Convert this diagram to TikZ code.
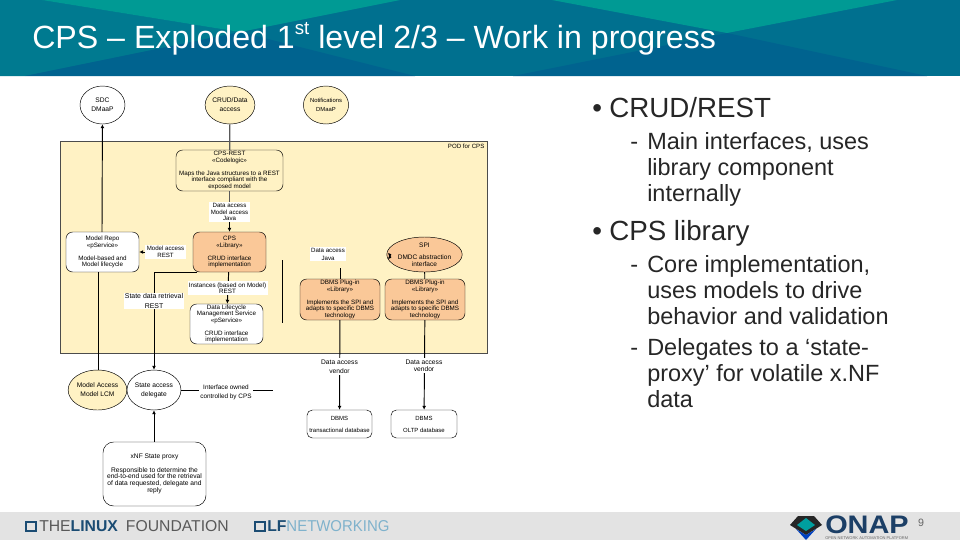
\documentclass[tikz,border=0pt]{standalone}
\usepackage{fontspec}
\setmainfont{Liberation Sans}
\usetikzlibrary{shapes.geometric,arrows.meta}
\definecolor{headblue}{HTML}{00708F}
\definecolor{headteal}{HTML}{009A94}
\definecolor{headmid}{HTML}{007A90}
\definecolor{headlow}{HTML}{00638F}
\definecolor{footgray}{HTML}{E3E3E3}
\definecolor{podfill}{HTML}{FFF2C4}
\definecolor{orangefill}{HTML}{FAC898}
\definecolor{lfnavy}{HTML}{1B4C73}
\definecolor{lfblue}{HTML}{7FB2CC}
\definecolor{onapnavy}{HTML}{1C3F66}
\tikzset{
  endbox/.style={ellipse,draw=black,line width=.35pt,inner sep=0pt,align=center,font=\fontsize{5}{6.8}\selectfont},
  podbox/.style={rectangle,rounded corners=5pt,draw=black,line width=.35pt,inner sep=0pt,align=center,font=\fontsize{4.7}{4.9}\selectfont},
  linklabel/.style={fill=white,inner sep=1pt,align=center,font=\fontsize{4.6}{5}\selectfont},
  flow/.style={draw=black,line width=.7pt,-{Latex[length=3pt,width=3pt]}},
  plainflow/.style={draw=black,line width=.7pt},
  grayflow/.style={draw=black!65,line width=.9pt},
  bigitem/.style={anchor=base west,font=\fontsize{20.8}{20.8}\selectfont,text=black!85,inner sep=0pt},
  smallitem/.style={anchor=base west,font=\fontsize{17.6}{19.5}\selectfont,text=black!85,inner sep=0pt,align=left}
}
\begin{document}
\begin{tikzpicture}[x=0.75pt,y=-0.75pt]
    \useasboundingbox (0,0) rectangle (960,540);
    % header and footer
    \fill[headblue] (0,0) rectangle (960,76);
    \fill[headmid] (0,0) -- (42,0) -- (240,32) -- (25,76) -- (0,76) -- cycle;
    \fill[headlow] (25,76) -- (240,32) -- (415,76) -- cycle;
    \fill[headlow] (513,76) -- (727,33) -- (927,76) -- cycle;
    \fill[headteal] (42,0) -- (400,0) -- (240,32) -- cycle;
    \fill[headteal] (552,0) -- (897,0) -- (727,33) -- cycle;
    \fill[footgray] (0,512) rectangle (960,540);
    \node[anchor=base west,text=white,inner sep=0pt,font=\fontsize{24.1}{24.1}\selectfont] (title) at (32,48) {CPS – Exploded 1\raisebox{.42em}{\fontsize{14}{14}\selectfont st} level 2/3 – Work in progress};

    % diagram
    \fill[podfill] (60,141) rectangle (487,353);
    \draw[black!70,line width=.5pt] (60,141) rectangle (487,353);
    \node[anchor=north east,inner sep=1pt,font=\fontsize{4.6}{5}\selectfont] (podname) at (486,142) {POD for CPS};

    \node[endbox,minimum width=33.75pt,minimum height=28.5pt] (sdc) at (102.5,105) {SDC\\DMaaP};
    \node[endbox,fill=podfill,minimum width=33.75pt,minimum height=28.5pt] (crud) at (230,105) {CRUD/Data\\access};
    \node[endbox,fill=podfill,minimum width=33.75pt,minimum height=28.5pt,font=\fontsize{4.4}{6.8}\selectfont] (notif) at (326,105) {Notifications\\DMaaP};

    \node[podbox,fill=podfill,minimum width=80.25pt,minimum height=30.75pt] (rest) at (229.5,170.5) {CPS-REST\\<<Codelogic>>\\[4.9pt]Maps the Java structures to a REST\\interface compliant with the\\exposed model};
    \node[podbox,fill=white,minimum width=54.75pt,minimum height=30pt] (repo) at (102.5,252) {Model Repo\\<<pService>>\\[4.9pt]Model-based and\\Model lifecycle};
    \node[podbox,fill=orangefill,minimum width=54.75pt,minimum height=30pt] (cps) at (229.5,252) {CPS\\<<Library>>\\[4.9pt]CRUD interface\\implementation};
    \node[podbox,fill=white,minimum width=54.75pt,minimum height=30pt] (lifecycle) at (226.5,324) {Data Lifecycle\\Management Service\\<<pService>>\\[4.9pt]CRUD interface\\implementation};
    \node[endbox,fill=orangefill,minimum width=50.25pt,minimum height=26.25pt,font=\fontsize{4.9}{5}\selectfont] (spi) at (424.5,254.5) {SPI\\[4.5pt]DMDC abstraction\\interface};
    \node[podbox,fill=orangefill,minimum width=60pt,minimum height=30.75pt] (plugone) at (340,299.5) {DBMS Plug-in\\<<Library>>\\[4.9pt]Implements the SPI and\\adapts to specific DBMS\\technology};
    \node[podbox,fill=orangefill,minimum width=60pt,minimum height=30.75pt] (plugtwo) at (425,299.5) {DBMS Plug-in\\<<Library>>\\[4.9pt]Implements the SPI and\\adapts to specific DBMS\\technology};

    \node[endbox,fill=podfill,minimum width=36.75pt,minimum height=30pt] (lcm) at (97.5,390) {Model Access\\Model LCM};
    \node[endbox,fill=white,minimum width=37.5pt,minimum height=30pt] (state) at (154,390) {State access\\delegate};
    \node[podbox,fill=white,rounded corners=8pt,minimum width=77.25pt,minimum height=48pt,font=\fontsize{5}{5}\selectfont] (xnf) at (154.5,474) {xNF State proxy\\[5pt]Responsible to determine the\\end-to-end used for the retrieval\\of data requested, delegate and\\reply};
    \node[podbox,fill=white,rounded corners=4pt,minimum width=48.75pt,minimum height=21pt,font=\fontsize{4.5}{5}\selectfont] (dbone) at (339.5,424) {DBMS\\[4pt]transactional database};
    \node[podbox,fill=white,rounded corners=4pt,minimum width=49.5pt,minimum height=21pt,font=\fontsize{4.5}{5}\selectfont] (dbtwo) at (424,424) {DBMS\\[4pt]OLTP database};

    % labels on the links
    \coordinate (legendend) at (273,390);
    \coordinate (barTop) at (282,260);
    \coordinate (barEnd) at (282,323);
    \coordinate (repoOut) at (102,232);
    \coordinate (repoIn) at (98,272);
    \draw[grayflow] (crud) -- (rest);
    \node[linklabel] (accessmodel) at (229.5,212) {Data access\\Model access\\Java};
    \draw[grayflow] (rest) -- (accessmodel);
    \draw[flow] (accessmodel) -- (cps);
    \draw[flow] (repoOut) -- (sdc);
    \draw[plainflow] (repoIn) -- (lcm.north -| repoIn);
    \node[linklabel] (modelrest) at (165.5,252) {Model access\\REST};
    \draw[flow] (modelrest) -- (repo);
    \draw[flow] (cps.212) -| (state);
    \node[linklabel,font=\fontsize{5.2}{6.8}\selectfont] (retrieval) at (154,301) {State data retrieval\\REST};
    \draw[flow] (cps) -- (lifecycle);
    \node[linklabel,font=\fontsize{4.7}{4.7}\selectfont] (instances) at (227.5,288) {Instances (based on Model)\\REST};
    \draw[plainflow] (barTop) -- (barEnd);
    \draw[plainflow] (plugone.north) -- ++(0,-11) coordinate (javaEnd);
    \node[linklabel,font=\fontsize{4.6}{6}\selectfont] (java) at (328,254) {Data access\\Java};
    \draw[plainflow] (spi) -- (plugtwo);
    \draw[flow] (plugone) -- (dbone);
    \draw[flow] (plugtwo) -- (dbtwo);
    \node[linklabel,font=\fontsize{5}{6.8}\selectfont] (vendorone) at (339.5,366.5) {Data access\\vendor};
    \node[linklabel,font=\fontsize{5}{5.4}\selectfont] (vendortwo) at (424,365.5) {Data access\\vendor};
    \draw[flow] (xnf.north -| state) -- (state);
    \draw[plainflow] (state) -- (legendend);
    \node[fill=white,inner sep=1pt,align=center,font=\fontsize{4.8}{6.8}\selectfont] (legend) at (226,392) {Interface owned\\controlled by CPS};
    \coordinate (spiTick) at (391,256);
    \draw[black,{Latex[length=2.5pt,width=2.5pt]}-] (388,253) -- (spiTick);
    \draw[black,{Latex[length=2.5pt,width=2.5pt]}-] (388,259) -- (spiTick);

    % bullets
    \node[bigitem] (bulone) at (592,117) {•};
    \node[bigitem] (crudhead) at (609,117) {CRUD/REST};
    \node[smallitem] (dashone) at (630,149) {-};
    \node[smallitem] (crudtext) at (647,201) {Main interfaces, uses\\library component\\internally};
    \node[bigitem] (bultwo) at (592,240) {•};
    \node[bigitem] (cpshead) at (609,240) {CPS library};
    \node[smallitem] (dashtwo) at (630,272) {-};
    \node[smallitem] (coretext) at (647,324) {Core implementation,\\uses models to drive\\behavior and validation};
    \node[smallitem] (dashthree) at (630,355) {-};
    \node[smallitem] (statetext) at (647,407) {Delegates to a ‘state-\\proxy’ for volatile x.NF\\data};

    % footer logos
    \draw[lfnavy,line width=1.3pt] (26,522) rectangle (36,531);
    \node[anchor=west,inner sep=0pt,text=black!65,font=\fontsize{11.8}{12}\selectfont] (lftext) at (39,526.5) {THE\textcolor{lfnavy}{\textbf{LINUX}}\hspace{6pt}FOUNDATION};
    \draw[lfnavy,line width=1.3pt] (255,522) rectangle (265,531);
    \node[anchor=west,inner sep=0pt,text=lfnavy,font=\fontsize{11.8}{12}\selectfont] (nettext) at (267,526.5) {\textbf{LF}\textcolor{lfblue}{\scalebox{.95}[1]{NETWORKING}}};
    \fill[black!85] (790,525) -- (798,516) -- (814,516) -- (822,525) -- (806,535) -- cycle;
    \fill[teal!75!cyan] (797,525) -- (806,518) -- (815,525) -- (806,531) -- cycle;
    \fill[blue!50!teal] (796,529) -- (806,535) -- (816,529) -- (806,540) -- cycle;
    \node[anchor=base west,inner sep=0pt,text=onapnavy,font=\fontsize{19}{19}\bfseries\selectfont] (onap) at (825,533) {\scalebox{1.14}[1]{ONAP}};
    \node[anchor=base west,inner sep=0pt,text=black!60,font=\fontsize{3}{3}\selectfont] (onapsub) at (825,539) {OPEN NETWORK AUTOMATION PLATFORM};
    \node[anchor=base,inner sep=0pt,text=black!60,font=\fontsize{8}{8}\selectfont] (pagenum) at (921,526) {9};
\end{tikzpicture}
\end{document}
